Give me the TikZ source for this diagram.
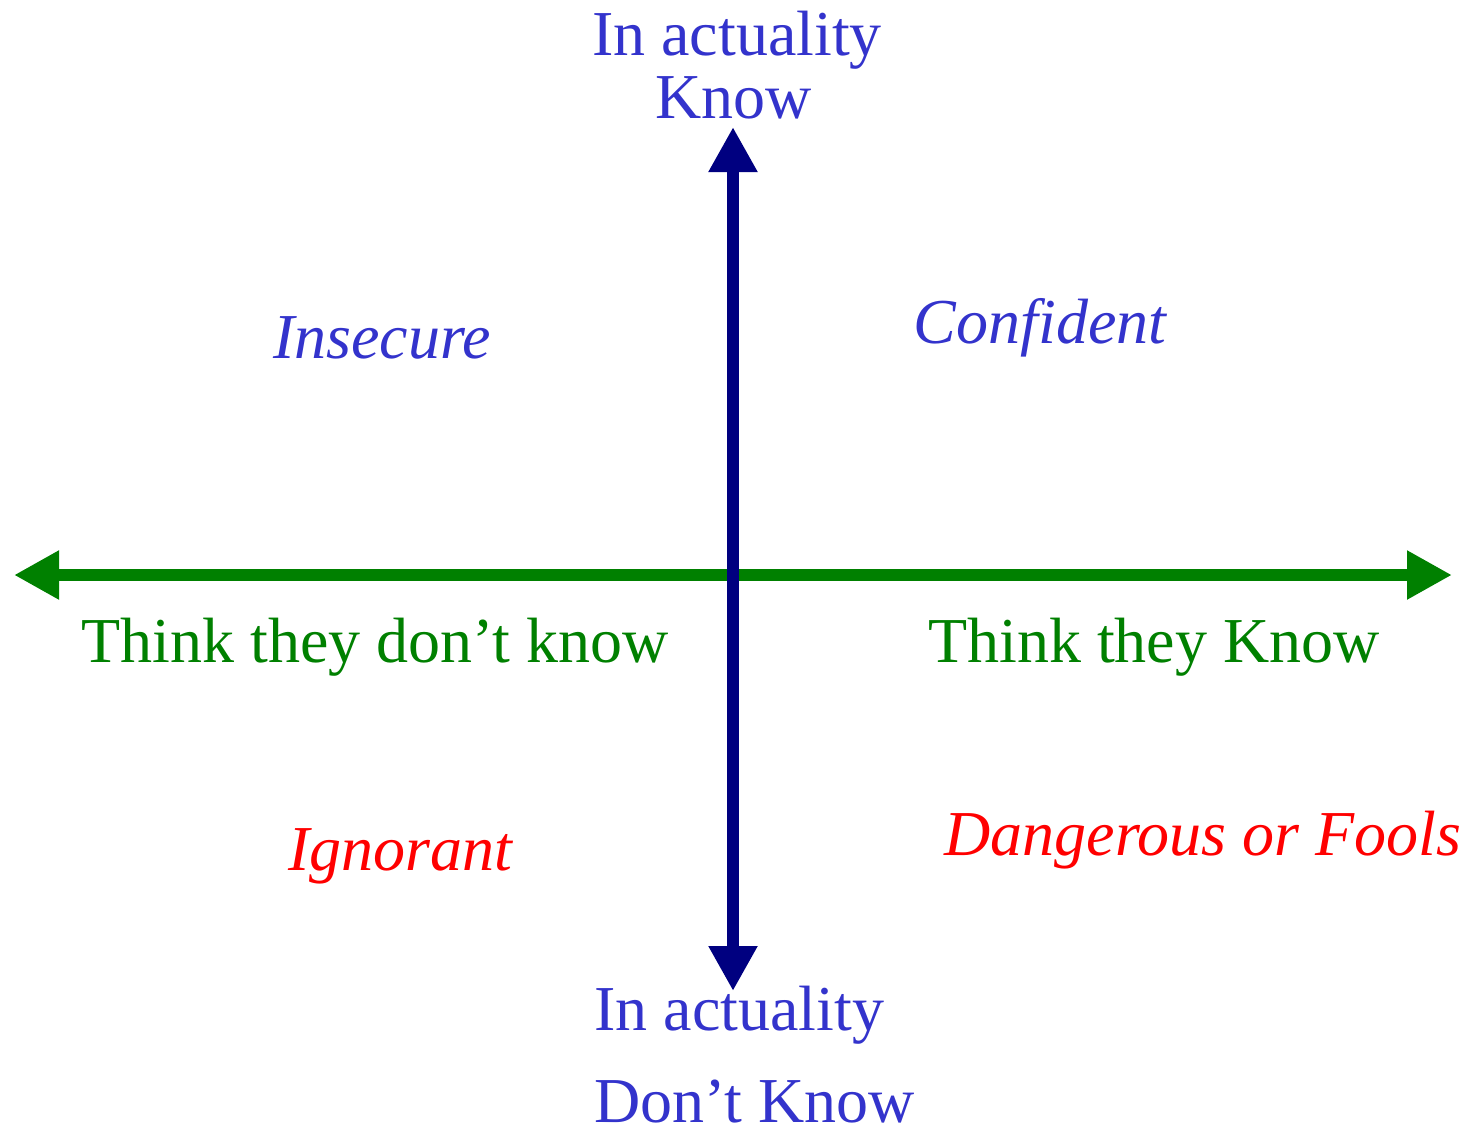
\documentclass[tikz,border=0pt]{standalone}
\usepackage{fontspec}
\setmainfont{Liberation Serif}
\usetikzlibrary{arrows.meta}
\definecolor{txtblue}{RGB}{51,51,204}
\definecolor{axisnavy}{RGB}{0,0,128}
\definecolor{axisgreen}{RGB}{0,128,0}
\definecolor{txtred}{RGB}{255,0,0}
\begin{document}
\begin{tikzpicture}[x=0.5pt,y=-0.5pt,
  lbl/.style={inner sep=0pt,anchor=base,font=\fontsize{32}{38}\selectfont},
  bluelbl/.style={lbl,text=txtblue},
  greenlbl/.style={lbl,text=axisgreen},
  quadblue/.style={lbl,text=txtblue,font=\fontsize{32}{38}\selectfont\itshape},
  quadred/.style={lbl,text=txtred,font=\fontsize{32}{38}\selectfont\itshape},
  axisarrow/.style={line width=6pt,{Triangle[length=22.5pt,width=23pt]}-{Triangle[length=22.5pt,width=23pt]}}
]
\useasboundingbox (0,0) rectangle (1472,1131);
\coordinate (hl) at (14,575);
\coordinate (hr) at (1452,575);
\coordinate (vt) at (733,127);
\coordinate (vb) at (733,991);
\draw[axisarrow,axisgreen] (hl) -- (hr);
\draw[axisarrow,axisnavy] (vb) -- (vt);
\node[bluelbl] (topa) at (737,55) {In actuality};
\node[bluelbl] (topb) at (734,118) {Know};
\node[bluelbl,anchor=base west] (bota) at (594,1030) {In actuality};
\node[bluelbl,anchor=base west] (botb) at (594,1122) {Don’t Know};
\node[quadblue] (insecure) at (382,358) {Insecure};
\node[quadblue] (confident) at (1040,343) {Confident};
\node[greenlbl] (tdk) at (375,662) {Think they don’t know};
\node[greenlbl] (tk) at (1154,662) {Think they Know};
\node[quadred] (ign) at (400,870) {Ignorant};
\node[quadred] (dang) at (1203,855) {Dangerous or Fools};
\end{tikzpicture}
\end{document}
